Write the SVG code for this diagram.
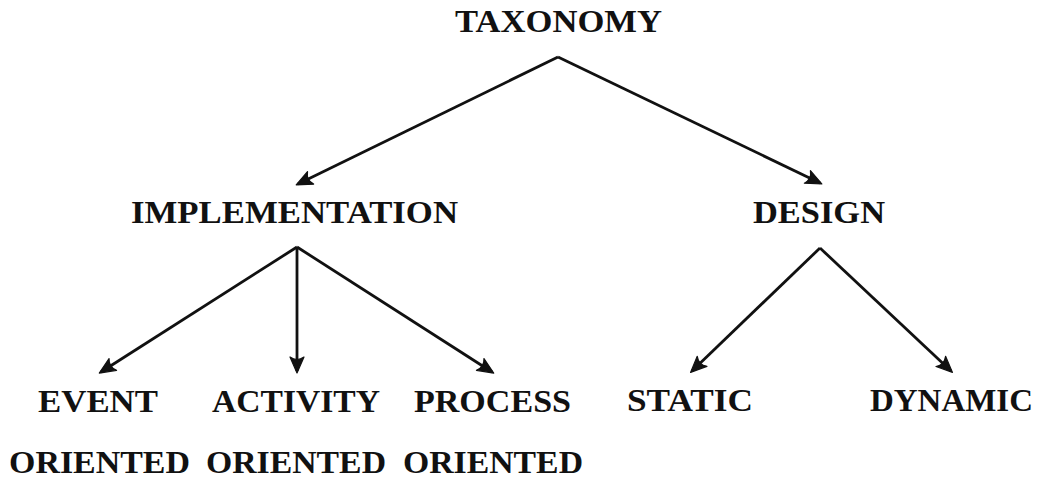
<svg xmlns="http://www.w3.org/2000/svg" width="1041" height="485" viewBox="0 0 1041 485">
<style>
text{font-family:"Liberation Serif","DejaVu Serif",serif;font-weight:bold;font-size:31px;fill:#111}
.c line{stroke:#111;stroke-width:2.8;fill:none;marker-end:url(#ah)}
</style>
<defs>
<marker id="ah" markerUnits="userSpaceOnUse" markerWidth="30" markerHeight="30" refX="0" refY="0" orient="auto" overflow="visible" viewBox="-20 -10 30 20">
<path d="M2,0 L-14,-7 Q-9,0 -14,7 Z" fill="#111" stroke="#111" stroke-width="1.2" stroke-linejoin="round"/>
</marker>
</defs>
<rect width="1041" height="485" fill="#fff"/>
<g class="c" id="connectors">
<line x1="558" y1="57" x2="298" y2="184"/>
<line x1="558" y1="57" x2="820" y2="183"/>
<line x1="297" y1="247" x2="101" y2="372"/>
<line x1="297" y1="247" x2="297" y2="371"/>
<line x1="297" y1="247" x2="492" y2="372"/>
<line x1="820" y1="248" x2="692" y2="371"/>
<line x1="820" y1="248" x2="951" y2="371"/>
</g>
<g id="taxonomy"><text x="455" y="32" textLength="207" lengthAdjust="spacingAndGlyphs">TAXONOMY</text></g>
<g id="implementation"><text x="131" y="223" textLength="327" lengthAdjust="spacingAndGlyphs">IMPLEMENTATION</text></g>
<g id="design"><text x="753" y="223" textLength="132" lengthAdjust="spacingAndGlyphs">DESIGN</text></g>
<g id="event"><text x="38" y="412" textLength="120" lengthAdjust="spacingAndGlyphs">EVENT</text><text x="9" y="473" textLength="181" lengthAdjust="spacingAndGlyphs">ORIENTED</text></g>
<g id="activity"><text x="212" y="412" textLength="168" lengthAdjust="spacingAndGlyphs">ACTIVITY</text><text x="206" y="473" textLength="180" lengthAdjust="spacingAndGlyphs">ORIENTED</text></g>
<g id="process"><text x="414" y="412" textLength="157" lengthAdjust="spacingAndGlyphs">PROCESS</text><text x="403" y="473" textLength="180" lengthAdjust="spacingAndGlyphs">ORIENTED</text></g>
<g id="static"><text x="627" y="411" textLength="126" lengthAdjust="spacingAndGlyphs">STATIC</text></g>
<g id="dynamic"><text x="870" y="411" textLength="163" lengthAdjust="spacingAndGlyphs">DYNAMIC</text></g>
</svg>
